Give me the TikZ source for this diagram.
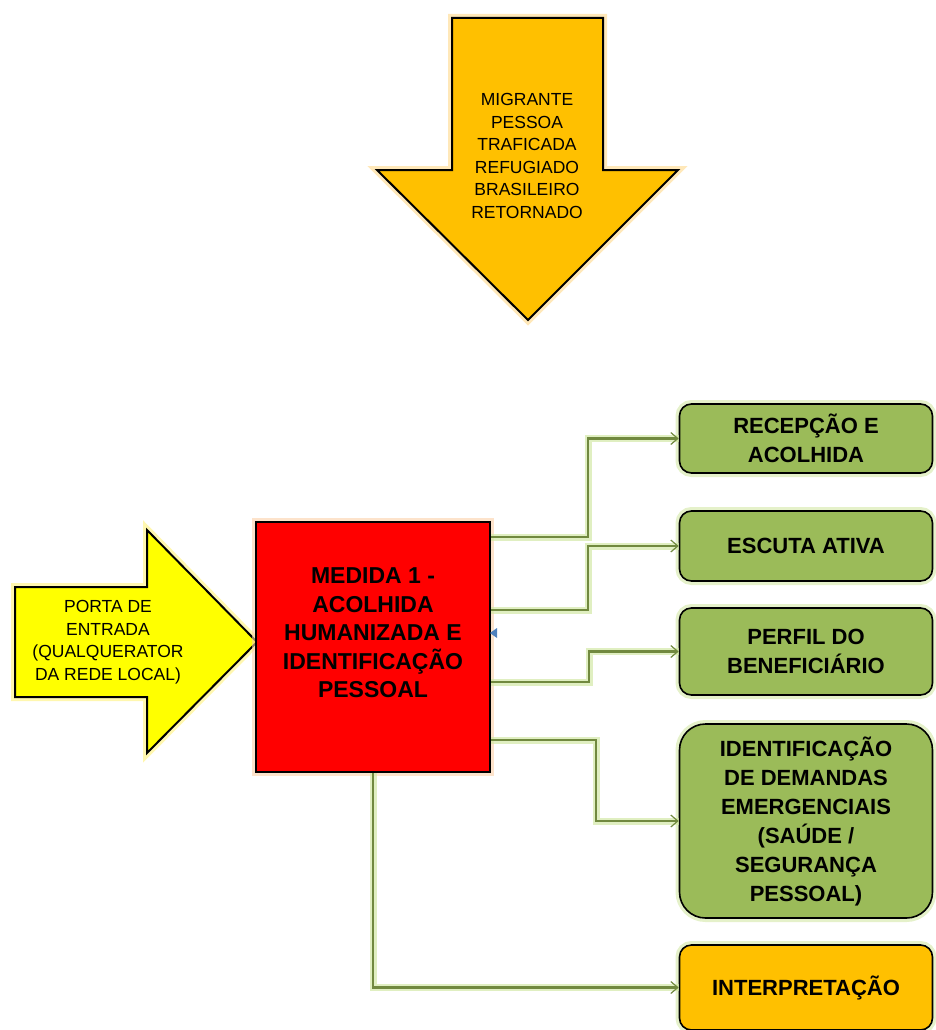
\documentclass[tikz,border=0pt]{standalone}
\usepackage{fontspec}
\setmainfont{Liberation Sans}
\usetikzlibrary{arrows.meta}

\definecolor{laranja}{HTML}{FFC000}
\definecolor{amarelo}{HTML}{FFFF00}
\definecolor{vermelho}{HTML}{FF0000}
\definecolor{verde}{HTML}{9BBB59}
\definecolor{linha}{HTML}{71893F}
\definecolor{brilhoverde}{HTML}{D3E8A6}
\definecolor{brilhoamarelo}{HTML}{FFF27A}
\definecolor{brilholaranja}{HTML}{FFD98A}
\definecolor{brilhovermelho}{HTML}{FBD0A8}
\definecolor{marca}{HTML}{4F81BD}

\tikzset{
  brilho/.style={preaction={draw=#1, line width=8pt, opacity=0.6}},
  caixa/.style={draw=black, line width=1.6pt, rounded corners=12pt, fill=verde,
    minimum width=253pt, inner sep=0pt, align=center,
    font=\fontsize{22}{29}\selectfont\bfseries, brilho=brilhoverde},
  conector/.style={draw=linha, line width=2.4pt,
    -{Straight Barb[length=7pt, width=12pt, line width=1.2pt]},
    preaction={draw=brilhoverde, line width=7pt, opacity=0.7, -}},
  texto/.style={align=center, inner sep=0pt, font=\fontsize{17.5}{22.5}\selectfont},
}

\begin{document}
\begin{tikzpicture}[x=1pt, y=-1pt]
  \useasboundingbox (0,0) rectangle (935,1030);

  % seta de cima
  \draw[fill=laranja, line width=2pt, brilho=brilholaranja]
    (452,18) -- (603,18) -- (603,170) -- (678,170) -- (528,320)
    -- (377,170) -- (452,170) -- cycle;
  \node[texto] (publico) at (527,156)
    {MIGRANTE\\PESSOA\\TRAFICADA\\REFUGIADO\\BRASILEIRO\\RETORNADO};

  % porta de entrada
  \draw[fill=amarelo, line width=2pt, brilho=brilhoamarelo]
    (15,587) -- (147,587) -- (147,530) -- (257,642) -- (147,753)
    -- (147,697) -- (15,697) -- cycle;
  \node[texto] (porta) at (108,642)
    {PORTA DE\\ENTRADA\\(QUALQUERATOR\\DA REDE LOCAL)};

  % medida 1
  \node[draw=black, line width=2pt, fill=vermelho, minimum width=234pt,
    minimum height=250pt, brilho=brilhovermelho] (medida) at (373,647) {};
  \node[align=center, inner sep=0pt, font=\fontsize{23}{28.5}\selectfont\bfseries]
    (medidatxt) at ([yshift=14pt]medida.center)
    {MEDIDA 1 -\\ACOLHIDA\\HUMANIZADA E\\IDENTIFICAÇÃO\\PESSOAL};
  \fill[marca] (490,633) -- (497,628) -- (497,638) -- cycle;

  % caixas
  \node[caixa, minimum height=69pt] (recepcao) at (806,438.5) {RECEPÇÃO E\\ACOLHIDA};
  \node[caixa, minimum height=70pt] (escuta) at (806,546) {ESCUTA ATIVA};
  \node[caixa, minimum height=87pt] (perfil) at (806,651.5) {PERFIL DO\\BENEFICIÁRIO};
  \node[caixa, minimum height=194pt, rounded corners=26pt] (demandas) at (806,821)
    {IDENTIFICAÇÃO\\DE DEMANDAS\\EMERGENCIAIS\\(SAÚDE /\\SEGURANÇA\\PESSOAL)};
  \node[caixa, fill=laranja, minimum height=85pt] (interpretacao) at (806,987.5)
    {INTERPRETAÇÃO};

  % ligacoes
  \draw[conector] ([yshift=110pt]medida.east) -- ++(97,0) |- (recepcao.west);
  \draw[conector] ([yshift=37pt]medida.east) -- ++(97,0) |- (escuta.west);
  \draw[conector] ([yshift=-35pt]medida.east) -- ++(98,0) |- (perfil.west);
  \draw[conector] ([yshift=-93pt]medida.east) -- ++(105,0) |- (demandas.west);
  \draw[conector] (medida.south) |- (interpretacao.west);
\end{tikzpicture}
\end{document}
